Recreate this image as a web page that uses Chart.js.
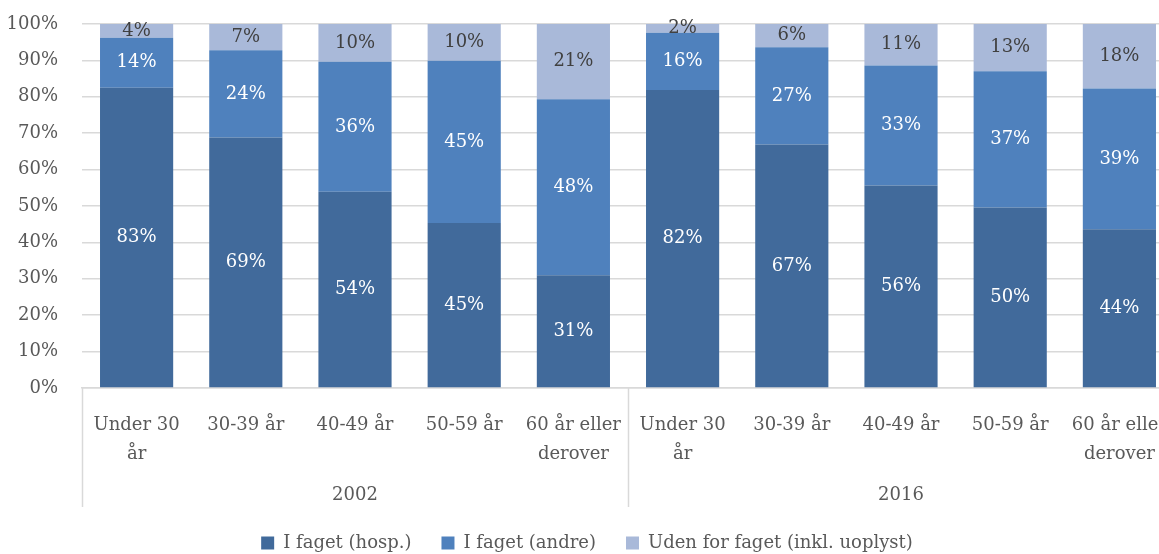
<!DOCTYPE html>
<html>
<head>
<meta charset="utf-8">
<script src="https://cdn.jsdelivr.net/npm/chart.js@4.4.0/dist/chart.umd.min.js"></script>
<style>
  html, body { margin: 0; padding: 0; overflow: hidden; background: #fff; }
  #wrap { width: 1206px; height: 554px; position: relative; }
</style>
</head>
<body>
<div id="wrap"><canvas id="chart"></canvas></div>
<script>
// aldersgrupper og år
var ageGroups = [['Under 30', 'år'], ['30-39 år'], ['40-49 år'], ['50-59 år'], ['60 år eller', 'derover']];
var years = ['2002', '2016'];

// andele i procent, 2002 efterfulgt af 2016
var hosp  = [82.5, 68.8, 53.9, 45.3, 31.0, 81.9, 66.9, 55.6, 49.6, 43.6];
var andre = [13.7, 24.0, 35.7, 44.6, 48.3, 15.7, 26.7, 33.0, 37.4, 38.7];
var uden  = [3.8, 7.2, 10.4, 10.1, 20.7, 2.4, 6.4, 11.4, 13.0, 17.7];

var yTicks = [0, 10, 20, 30, 40, 50, 60, 70, 80, 90, 100];

var fontFam = '"DejaVu Serif", serif';
var grey = '#595959';

var labels = [];
var yearTicks = [];
years.forEach(function(y){
    ageGroups.forEach(function(a, i){
        labels.push(a);
        yearTicks.push(i === Math.floor(ageGroups.length / 2) ? y : '');
    });
});

// tal inde i søjlerne
var barLabels = {
    id: 'barLabels',
    afterDatasetsDraw: function(chart){
        var ctx = chart.ctx;
        ctx.save();
        ctx.font = '18px ' + fontFam;
        ctx.textAlign = 'center';
        ctx.textBaseline = 'middle';
        chart.data.datasets.forEach(function(ds, di){
            var meta = chart.getDatasetMeta(di);
            ctx.fillStyle = di === 2 ? '#404040' : '#ffffff';
            meta.data.forEach(function(bar, i){
                ctx.fillText(Math.round(ds.data[i]) + '%', bar.x, (bar.y + bar.base) / 2);
            });
        });
        ctx.restore();
    }
};

// lodrette skillelinjer mellem årene
var groupLines = {
    id: 'groupLines',
    afterDraw: function(chart){
        var x = chart.scales.x, x2 = chart.scales.x2;
        var w = (x.right - x.left) / labels.length;
        var ctx = chart.ctx;
        ctx.save();
        ctx.strokeStyle = '#D9D9D9';
        ctx.lineWidth = 1.5;
        for (var g = 0; g <= years.length; g++) {
            var px = Math.round(x.left + g * ageGroups.length * w) + 0.5;
            ctx.beginPath();
            ctx.moveTo(px, x.top);
            ctx.lineTo(px, x2.bottom + 3);
            ctx.stroke();
        }
        ctx.restore();
    }
};

var ctx = document.getElementById('chart').getContext('2d');
var graph = new Chart(ctx, {
    type: 'bar',
    data: {
        labels: labels,
        datasets: [
            { label: 'I faget (hosp.)', data: hosp, backgroundColor: '#416A9B' },
            { label: 'I faget (andre)', data: andre, backgroundColor: '#4F81BD' },
            { label: 'Uden for faget (inkl. uoplyst)', data: uden, backgroundColor: '#A9B9D9' }
        ]
    },
    options: {
        responsive: true,
        maintainAspectRatio: false,
        animation: false,
        layout: { padding: { left: 0, right: 32, top: 24, bottom: -8 } },
        datasets: {
            bar: { categoryPercentage: 1, barPercentage: 0.67, borderWidth: 0 }
        },
        scales: {
            x: {
                stacked: true,
                grid: { display: false },
                border: { display: true, color: '#D9D9D9', width: 1.5 },
                ticks: {
                    color: grey,
                    padding: 15,
                    maxRotation: 0,
                    autoSkip: false,
                    font: { family: fontFam, size: 18, lineHeight: 1.6 }
                },
                afterFit: function(s){ s.height = 73; }
            },
            x2: {
                type: 'category',
                labels: yearTicks,
                position: 'bottom',
                offset: true,
                grid: { display: false },
                border: { display: false },
                ticks: {
                    color: grey,
                    padding: 12,
                    maxRotation: 0,
                    autoSkip: false,
                    font: { family: fontFam, size: 18, lineHeight: 1.6 }
                },
                afterFit: function(s){ s.height = 43; }
            },
            y: {
                stacked: true,
                min: 0,
                max: 100,
                afterBuildTicks: function(s){ s.ticks = yTicks.map(function(v){ return { value: v }; }); },
                grid: { color: '#D9D9D9', lineWidth: 1.5, drawTicks: false },
                border: { display: false },
                ticks: {
                    color: grey,
                    padding: 24,
                    font: { family: fontFam, size: 18 },
                    callback: function(v){ return v + '%'; }
                },
                afterFit: function(s){
                    s.width = 82;
                    s.paddingTop = 0;
                    s.paddingBottom = 0;
                }
            }
        },
        plugins: {
            legend: {
                position: 'bottom',
                labels: {
                    boxWidth: 13,
                    boxHeight: 13,
                    padding: 30,
                    color: grey,
                    font: { family: fontFam, size: 18 }
                }
            },
            tooltip: { enabled: false },
            title: { display: false }
        }
    },
    plugins: [barLabels, groupLines]
});
</script>
</body>
</html>
